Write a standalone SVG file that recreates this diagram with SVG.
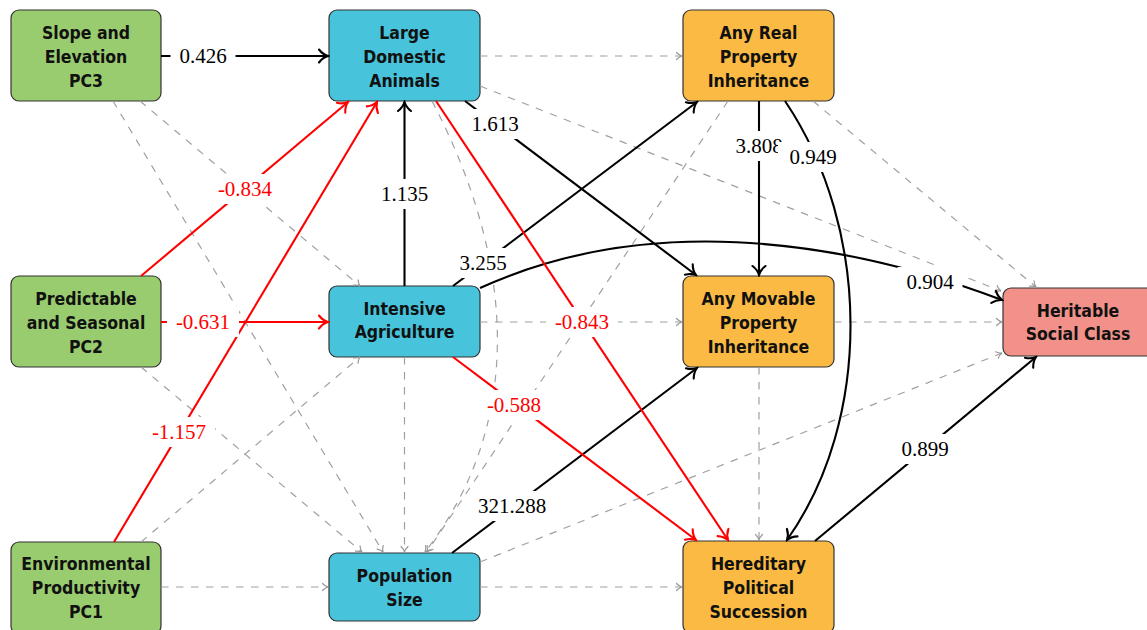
<svg xmlns="http://www.w3.org/2000/svg" width="1147" height="630" viewBox="0 0 1147 630">
<style>
.node rect{stroke:#333;stroke-width:1.2}
.g rect{fill:#99CC6F}
.b rect{fill:#47C3DB}
.o rect{fill:#FBBA43}
.p rect{fill:#F2918A}
.node text{font-family:"DejaVu Sans Condensed","DejaVu Sans",sans-serif;font-weight:bold;font-size:17.5px;fill:#111;text-anchor:middle}
.dash{fill:none;stroke:#a0a0a0;stroke-width:1.2;stroke-dasharray:7.5 7.5;marker-end:url(#ag)}
.blk{fill:none;stroke:#000;stroke-width:2.1;marker-end:url(#ab)}
.red{fill:none;stroke:#f00;stroke-width:2.1;marker-end:url(#ar)}
.lbg{fill:#fff}
.lt{font-family:"Liberation Serif","Times New Roman",serif;font-size:21px;text-anchor:middle;fill:#000}
.lr{fill:#f00}
</style>
<defs>
<marker id="ab" viewBox="-12 -8 14 16" refX="0" refY="0" markerWidth="14" markerHeight="16" markerUnits="userSpaceOnUse" orient="auto"><path d="M-9,-6.5 C-6,-2.5 -2,-0.6 0,0 C-2,0.6 -6,2.5 -9,6.5" fill="none" stroke="#000" stroke-width="2.1" stroke-linecap="round"/></marker>
<marker id="ar" viewBox="-12 -8 14 16" refX="0" refY="0" markerWidth="14" markerHeight="16" markerUnits="userSpaceOnUse" orient="auto"><path d="M-9,-6.5 C-6,-2.5 -2,-0.6 0,0 C-2,0.6 -6,2.5 -9,6.5" fill="none" stroke="#f00" stroke-width="2.1" stroke-linecap="round"/></marker>
<marker id="ag" viewBox="-8 -5 9 10" refX="0" refY="0" markerWidth="9" markerHeight="10" markerUnits="userSpaceOnUse" orient="auto"><path d="M-5.5,-3.5 C-3.5,-1.4 -1.2,-0.3 0,0 C-1.2,0.3 -3.5,1.4 -5.5,3.5" fill="none" stroke="#999" stroke-width="1.2" stroke-linecap="round"/></marker>
</defs>

<g id="pc3" class="node g"><rect x="11" y="10" width="150" height="91" rx="8"/><text x="86" y="39">Slope and</text><text x="86" y="63">Elevation</text><text x="86" y="87">PC3</text></g>
<g id="lda" class="node b"><rect x="329" y="10" width="151" height="91" rx="8"/><text x="404.5" y="39">Large</text><text x="404.5" y="63">Domestic</text><text x="404.5" y="87">Animals</text></g>
<g id="real" class="node o"><rect x="683" y="10" width="151" height="91" rx="8"/><text x="758.5" y="39">Any Real</text><text x="758.5" y="63">Property</text><text x="758.5" y="87">Inheritance</text></g>
<g id="pc2" class="node g"><rect x="11" y="276" width="150" height="91" rx="8"/><text x="86" y="305">Predictable</text><text x="86" y="329">and Seasonal</text><text x="86" y="353">PC2</text></g>
<g id="ia" class="node b"><rect x="329" y="286" width="151" height="71" rx="8"/><text x="404.5" y="315">Intensive</text><text x="404.5" y="338">Agriculture</text></g>
<g id="mov" class="node o"><rect x="683" y="276" width="151" height="91" rx="8"/><text x="758.5" y="305">Any Movable</text><text x="758.5" y="329">Property</text><text x="758.5" y="353">Inheritance</text></g>
<g id="hsc" class="node p"><rect x="1003" y="288" width="152" height="68" rx="8"/><text x="1078" y="317">Heritable</text><text x="1078" y="340">Social Class</text></g>
<g id="pc1" class="node g"><rect x="11" y="542" width="150" height="92" rx="8"/><text x="86" y="570">Environmental</text><text x="86" y="594">Productivity</text><text x="86" y="618">PC1</text></g>
<g id="pop" class="node b"><rect x="329" y="553" width="151" height="68" rx="8"/><text x="404.5" y="582">Population</text><text x="404.5" y="606">Size</text></g>
<g id="hps" class="node o"><rect x="683" y="541" width="151" height="92" rx="8"/><text x="758.5" y="570">Hereditary</text><text x="758.5" y="594">Political</text><text x="758.5" y="618">Succession</text></g>

<g id="connectors">
<path class="dash" d="M480,56 L682,56"/>
<path class="dash" d="M480,86 L1001,291"/>
<path class="dash" d="M813,101 L1036,287"/>
<path class="dash" d="M480,322 L682,322"/>
<path class="dash" d="M834,322 L1002,322"/>
<path class="dash" d="M480,562 L1002,353"/>
<path class="dash" d="M759,367 L759,540"/>
<path class="dash" d="M480,587 L682,587"/>
<path class="dash" d="M161,587 L328,587"/>
<path class="dash" d="M141,542 L360,357"/>
<path class="dash" d="M140,101 L360,286"/>
<path class="dash" d="M113,101 L383,552"/>
<path class="dash" d="M141,367 L362,552"/>
<path class="dash" d="M404.5,357 L404.5,552"/>
<path class="dash" d="M432,101 C505,240 535,410 425,552"/>
<path class="dash" d="M728,101 L427,552"/>

<path class="blk" d="M161,56 L328,56"/>
<rect class="lbg" x="170.5" y="41" width="65" height="30"/><text class="lt" x="203" y="63">0.426</text>

<path class="blk" d="M404.5,286 L404.5,102"/>
<rect class="lbg" x="372" y="179" width="65" height="30"/><text class="lt" x="404.5" y="201">1.135</text>

<path class="blk" d="M465,101 L696,275"/>
<rect class="lbg" x="462.5" y="109" width="65" height="30"/><text class="lt" x="495" y="131">1.613</text>

<path class="blk" d="M453,286 L697,102"/>
<rect class="lbg" x="450.5" y="248" width="65" height="30"/><text class="lt" x="483" y="270">3.255</text>

<path class="blk" d="M480,288 C640,215 830,235 1002,300"/>
<rect class="lbg" x="897.5" y="267" width="65" height="30"/><text class="lt" x="930" y="289">0.904</text>

<path class="blk" d="M759,101 L759,275"/>
<rect class="lbg" x="726.5" y="131" width="65" height="30"/><text class="lt" x="759" y="153">3.808</text>

<path class="blk" d="M785,101 C872,230 872,420 787,540"/>
<rect class="lbg" x="778" y="142" width="70" height="30"/><text class="lt" x="813" y="164">0.949</text>

<path class="blk" d="M452,553 L697,368"/>
<rect class="lbg" x="469" y="491" width="86" height="30"/><text class="lt" x="512" y="513">321.288</text>

<path class="blk" d="M815,541 L1036,357"/>
<rect class="lbg" x="892.5" y="434" width="65" height="30"/><text class="lt" x="925" y="456">0.899</text>

<path class="red" d="M141,276 L348,102"/>
<rect class="lbg" x="209" y="174" width="72" height="30"/><text class="lt lr" x="245" y="196">-0.834</text>

<path class="red" d="M114,542 L377,102"/>
<rect class="lbg" x="143" y="417" width="72" height="30"/><text class="lt lr" x="179" y="439">-1.157</text>

<path class="red" d="M161,322 L328,322"/>
<rect class="lbg" x="167" y="307" width="72" height="30"/><text class="lt lr" x="203" y="329">-0.631</text>

<path class="red" d="M436,101 L728,540"/>
<rect class="lbg" x="546" y="307" width="72" height="30"/><text class="lt lr" x="582" y="329">-0.843</text>

<path class="red" d="M453,357 L696,540"/>
<rect class="lbg" x="478" y="390" width="72" height="30"/><text class="lt lr" x="514" y="412">-0.588</text>
</g>
</svg>
